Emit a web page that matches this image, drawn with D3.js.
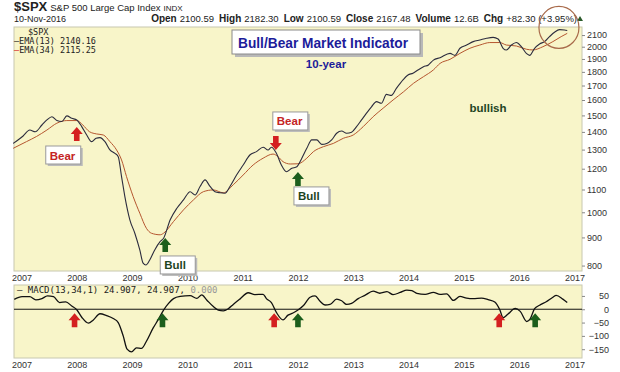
<!DOCTYPE html>
<html>
<head>
<meta charset="utf-8">
<script src="https://cdn.jsdelivr.net/npm/d3@7"></script>
<style>
body{margin:0;background:#fff}
svg{display:block;font-family:"Liberation Sans",Arial,sans-serif}
</style>
</head>
<body>
<svg id="chart" width="620" height="372"></svg>
<script>
// weekly EMA values (decimal year, price)
let ema13Years=[2006.84,2007.02,2007.14,2007.24,2007.36,2007.45,2007.54,2007.63,2007.72,2007.81,2007.9,2007.99,2008.08,2008.17,2008.26,2008.34,2008.41,2008.5,2008.59,2008.68,2008.74,2008.8,2008.86,2008.95,2009.04,2009.13,2009.19,2009.24,2009.31,2009.4,2009.5,2009.56,2009.68,2009.8,2009.92,2010.04,2010.13,2010.22,2010.31,2010.4,2010.49,2010.58,2010.67,2010.76,2010.88,2011.0,2011.12,2011.24,2011.36,2011.45,2011.51,2011.6,2011.69,2011.78,2011.88,2011.97,2012.06,2012.15,2012.24,2012.33,2012.42,2012.51,2012.6,2012.69,2012.78,2012.87,2012.96,2013.05,2013.14,2013.23,2013.32,2013.41,2013.5,2013.59,2013.68,2013.77,2013.89,2013.98,2014.07,2014.16,2014.26,2014.35,2014.44,2014.56,2014.74,2014.83,2014.92,2015.04,2015.16,2015.28,2015.4,2015.52,2015.61,2015.7,2015.76,2015.85,2015.94,2016.03,2016.12,2016.18,2016.27,2016.36,2016.45,2016.54,2016.63,2016.72,2016.81,2016.86]
let ema13Values=[1334,1376,1411,1401,1441,1472,1492,1468,1462,1497,1482,1472,1431,1382,1344,1363,1367,1344,1298,1280,1262,1161,1068,969,916,854,808,802,819,854,885,897,969,1017,1053,1090,1075,1114,1145,1114,1090,1085,1083,1114,1169,1219,1271,1289,1313,1298,1313,1280,1219,1185,1202,1210,1254,1307,1354,1354,1329,1334,1354,1392,1405,1392,1398,1431,1472,1514,1555,1589,1578,1638,1631,1680,1741,1777,1790,1814,1839,1853,1891,1910,1945,1929,1987,2014,2043,2057,2072,2080,2065,1987,1973,2014,2035,2000,1945,1929,1987,2023,2043,2086,2125,2148,2145,2140]

let ema34Years=[2006.84,2007.08,2007.26,2007.45,2007.63,2007.81,2007.99,2008.1,2008.22,2008.35,2008.47,2008.59,2008.71,2008.8,2008.89,2009.01,2009.13,2009.25,2009.34,2009.5,2009.56,2009.74,2009.92,2010.1,2010.28,2010.46,2010.64,2010.82,2011.0,2011.18,2011.36,2011.54,2011.63,2011.72,2011.85,2011.99,2012.15,2012.27,2012.45,2012.63,2012.81,2012.99,2013.17,2013.35,2013.53,2013.71,2013.9,2014.08,2014.26,2014.44,2014.56,2014.74,2014.92,2015.1,2015.28,2015.46,2015.64,2015.76,2015.94,2016.12,2016.24,2016.42,2016.6,2016.75,2016.86]
let ema34Values=[1307,1344,1373,1411,1452,1468,1468,1441,1401,1388,1382,1344,1298,1245,1161,1068,996,935,916,910,916,962,1010,1053,1090,1098,1085,1122,1169,1219,1254,1276,1262,1236,1224,1225,1254,1289,1316,1334,1363,1382,1431,1492,1546,1600,1656,1716,1764,1815,1865,1897,1945,1987,2014,2035,2035,2014,2006,1979,1973,2000,2043,2086,2115]

let macdYears=[2006.86,2007.0,2007.14,2007.25,2007.36,2007.46,2007.57,2007.68,2007.79,2007.9,2007.99,2008.08,2008.2,2008.29,2008.41,2008.53,2008.65,2008.74,2008.83,2008.9,2008.98,2009.07,2009.16,2009.25,2009.37,2009.46,2009.56,2009.65,2009.74,2009.86,2010.04,2010.16,2010.25,2010.34,2010.46,2010.55,2010.64,2010.73,2010.82,2010.94,2011.09,2011.21,2011.36,2011.42,2011.51,2011.6,2011.72,2011.81,2011.9,2011.99,2012.09,2012.21,2012.3,2012.39,2012.48,2012.57,2012.69,2012.78,2012.87,2012.96,2013.08,2013.2,2013.35,2013.47,2013.6,2013.71,2013.84,2013.96,2014.05,2014.14,2014.29,2014.44,2014.56,2014.68,2014.8,2014.92,2015.04,2015.16,2015.31,2015.43,2015.55,2015.64,2015.7,2015.79,2015.92,2016.01,2016.13,2016.19,2016.27,2016.36,2016.48,2016.6,2016.66,2016.78,2016.86]
let macdValues=[37,47,47,35,40,50,47,25,28,12,-2,-30,-52,-40,-17,-24,-35,-50,-100,-150,-160,-145,-147,-120,-71,-40,-3,22,40,48,51,41,54,35,10,-3,-6,2,18,38,62,55,56,40,25,-12,-40,-22,-14,-3,14,45,50,30,16,18,38,32,18,22,40,52,68,60,66,55,63,72,70,60,56,63,56,58,33,48,42,40,42,36,27,-2,-32,-18,3,-8,-46,-36,2,15,28,45,52,38,25]

let years=[2007,2008,2009,2010,2011,2012,2013,2014,2015,2016,2017]
let priceTicks=[800,900,1000,1100,1200,1300,1400,1500,1600,1700,1800,1900,2000,2100]
let macdTicks=[50,0,-50,-100,-150]

// signals on the price panel
let signalYears=[2007.99,2011.59,2009.59,2011.99]
let signalPrices=[1429,1298,898,1184]
let signalTypes=["Bear","Bear","Bull","Bull"]
let signalDirs=["up","down","up","up"]
// signals on the MACD panel
let macdSignalYears=[2007.95,2009.54,2011.56,2011.99,2015.63,2016.28]
let macdSignalTypes=["Bear","Bull","Bear","Bull","Bear","Bull"]

let svg=d3.select("#chart")
let left=14,right=582
let mainTop=27,mainBottom=271
let macdTop=285,macdBottom=358

let x=d3.scaleLinear().domain([2006.855,2017.127]).range([left,right])
let y=d3.scaleLog().domain([782,2172]).range([mainBottom,mainTop])
let ym=d3.scaleLinear().domain([-183,91]).range([macdBottom,macdTop])

let panelFill="#f8f5c9"
let red="#d42020", green="#1c5e1c"

// header
let h=svg.append("text").attr("x",14).attr("y",11).attr("fill","#222")
h.append("tspan").attr("font-weight","bold").attr("font-size",13).text("$SPX")
h.append("tspan").attr("font-size",9.5).attr("dx",3).text("S&P 500 Large Cap Index")
h.append("tspan").attr("font-size",8).attr("dx",3).text("INDX")

svg.append("text").attr("x",14).attr("y",22).attr("font-size",9).attr("fill","#222").text("10-Nov-2016")

let quote=[["Open","2100.59"],["High","2182.30"],["Low","2100.59"],["Close","2167.48"],["Volume","12.6B"],["Chg","+82.30 (+3.95%)"]]
let q=svg.append("text").attr("x",577).attr("y",22).attr("text-anchor","end").attr("fill","#222")
quote.forEach((d,i)=>{
q.append("tspan").attr("font-weight","bold").attr("font-size",10).attr("dx",i?5:0).text(d[0])
q.append("tspan").attr("font-size",9.5).attr("dx",3).text(d[1])
})
svg.append("path").attr("d","M577,21 L583,21 L580,16 Z").attr("fill","#2a5a2a")

// panels
svg.append("rect").attr("x",left).attr("y",mainTop).attr("width",right-left).attr("height",mainBottom-mainTop)
.attr("fill",panelFill).attr("stroke","#c8c8b0").attr("stroke-width",1)
svg.append("rect").attr("x",left).attr("y",macdTop).attr("width",right-left).attr("height",macdBottom-macdTop)
.attr("fill",panelFill).attr("stroke","#c8c8b0").attr("stroke-width",1)

// price axis
let ay=svg.append("g").attr("transform","translate("+right+",0)")
.call(d3.axisRight(y).tickValues(priceTicks).tickFormat(d3.format("d")).tickSize(3).tickPadding(2))
ay.select(".domain").remove()
ay.selectAll("line").attr("stroke","#888")
ay.selectAll("text").attr("font-size",9).attr("fill","#333").attr("font-family","Liberation Sans,Arial,sans-serif")

let am=svg.append("g").attr("transform","translate("+right+",0)")
.call(d3.axisRight(ym).tickValues(macdTicks).tickSize(3).tickPadding(2))
am.select(".domain").remove()
am.selectAll("line").attr("stroke","#888")
am.selectAll("text").attr("font-size",9).attr("fill","#333").attr("font-family","Liberation Sans,Arial,sans-serif")
.attr("text-anchor","end").attr("dx",22)

// year labels
;[mainBottom+10,macdBottom+10].forEach(yy=>{
svg.append("g").selectAll("text").data(years).enter().append("text")
.attr("x",d=>x(d)).attr("y",yy).attr("text-anchor","middle")
.attr("font-size",9).attr("fill","#333").text(d=>d)
})

// EMA lines
let line=d3.line().x(d=>x(d[0])).y(d=>y(d[1])).curve(d3.curveMonotoneX)
svg.append("path").datum(d3.zip(ema34Years,ema34Values)).attr("d",line)
.attr("fill","none").attr("stroke","#b5562f").attr("stroke-width",1)
svg.append("path").datum(d3.zip(ema13Years,ema13Values)).attr("d",line)
.attr("fill","none").attr("stroke","#2c2c3e").attr("stroke-width",1.1)

// legend
let mono="DejaVu Sans Mono,monospace"
svg.append("text").attr("x",28).attr("y",35).attr("font-family",mono).attr("font-size",8.5).attr("fill","#222").text("$SPX")
svg.append("text").attr("x",14).attr("y",44).attr("font-family",mono).attr("font-size",8.5).attr("fill","#222").text("\u2014EMA(13) 2140.16")
let l2=svg.append("text").attr("x",14).attr("y",53).attr("font-family",mono).attr("font-size",8.5)
l2.append("tspan").attr("fill","#d42020").text("\u2014")
l2.append("tspan").attr("fill","#222").text("EMA(34) 2115.25")

// title box
svg.append("rect").attr("x",235).attr("y",33).attr("width",188).attr("height",24).attr("fill","#b8b8b8")
svg.append("rect").attr("x",232).attr("y",30).attr("width",188).attr("height",24).attr("fill","#fff").attr("stroke","#8a8a8a")
svg.append("text").attr("x",238).attr("y",48).attr("font-size",15.5).attr("font-weight","bold").attr("fill","#1c1c9a")
.attr("textLength",170).attr("lengthAdjust","spacingAndGlyphs").text("Bull/Bear Market Indicator")
svg.append("text").attr("x",326).attr("y",68).attr("text-anchor","middle").attr("font-size",11.5).attr("font-weight","bold").attr("fill","#1c1c9a").text("10-year")
svg.append("text").attr("x",488).attr("y",112).attr("text-anchor","middle").attr("font-size",11.5).attr("font-weight","bold").attr("fill","#1f451f").text("bullish")

// block arrow, tip at (cx,ty)
function arrow(cx,ty,dir,color){
let s=dir==="up"?1:-1
let w=6,sw=2.8,hh=7,len=14
let p=[[cx,ty],[cx+w,ty+s*hh],[cx+sw,ty+s*hh],[cx+sw,ty+s*len],[cx-sw,ty+s*len],[cx-sw,ty+s*hh],[cx-w,ty+s*hh]]
svg.append("path").attr("d","M"+p.join("L")+"Z").attr("fill",color)
}

function label(bx,by,txt,color){
let w=35,hgt=18
svg.append("rect").attr("x",bx+2).attr("y",by+2).attr("width",w).attr("height",hgt).attr("fill","#bbb")
svg.append("rect").attr("x",bx).attr("y",by).attr("width",w).attr("height",hgt).attr("fill","#fff").attr("stroke","#999")
svg.append("text").attr("x",bx+4).attr("y",by+13.5).attr("font-size",11.5).attr("font-weight","bold").attr("fill",color).text(txt)
}

// offsets of each label box from its arrow tip
let boxOffsets=[[-31,19],[-3,-38],[-5,18],[-4,15]]
signalYears.forEach((yr,i)=>{
let cx=x(yr),ty=y(signalPrices[i])
let color=signalTypes[i]==="Bear"?red:green
arrow(cx,ty,signalDirs[i],color)
label(cx+boxOffsets[i][0],ty+boxOffsets[i][1],signalTypes[i],signalTypes[i]==="Bear"?"#c42424":"#1f451f")
})

// MACD panel
svg.append("line").attr("x1",left).attr("x2",right).attr("y1",ym(0)).attr("y2",ym(0)).attr("stroke","#111").attr("stroke-width",1)
let mline=d3.line().x(d=>x(d[0])).y(d=>ym(d[1])).curve(d3.curveMonotoneX)
svg.append("path").datum(d3.zip(macdYears,macdValues)).attr("d",mline)
.attr("fill","none").attr("stroke","#111").attr("stroke-width",1.3)

macdSignalYears.forEach((yr,i)=>{
arrow(x(yr),ym(0)+4,"up",macdSignalTypes[i]==="Bear"?red:green)
})

let ml=svg.append("text").attr("x",17).attr("y",293).attr("font-family",mono).attr("font-size",9)
ml.append("tspan").attr("fill","#222").text("\u2014 MACD(13,34,1) 24.907, 24.907, ")
ml.append("tspan").attr("fill","#999").text("0.000")

// highlight circle
svg.append("ellipse").attr("cx",x(2016.71)).attr("cy",y(2150)-2).attr("rx",20).attr("ry",21)
.attr("fill","none").attr("stroke","#a86a4a").attr("stroke-width",1.2)
</script>
</body>
</html>
